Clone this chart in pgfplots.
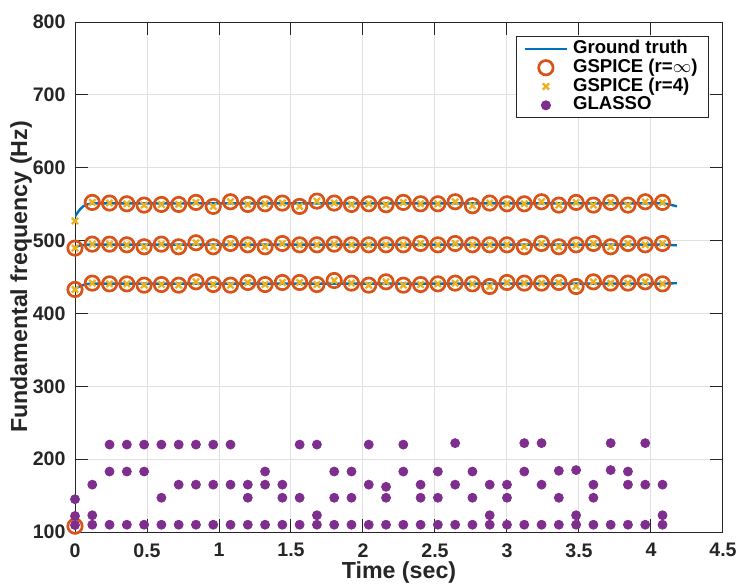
\documentclass[border=0pt]{standalone}
\usepackage{pgfplots}
\pgfplotsset{compat=1.18}
\usepackage{pgfplotstable}
\usepackage{fontspec}
\setmainfont{Liberation Sans}
\definecolor{mblue}{rgb}{0,0.447,0.741}
\definecolor{morange}{rgb}{0.85,0.325,0.098}
\definecolor{myellow}{rgb}{0.929,0.694,0.125}
\definecolor{mpurple}{rgb}{0.494,0.184,0.556}
\definecolor{axc}{rgb}{0.15,0.15,0.15}
\definecolor{gridc}{rgb}{0.88,0.88,0.88}
\pgfplotsset{gtlegend/.style={legend image code/.code={\draw[##1] (-0.075cm,0cm) -- (0.675cm,0cm);}}}

% GSPICE (r=inf) estimates
\pgfplotstableread{
t f
0 108
0 432.9
0 489.7
0.12 552.4
0.24 551.5
0.36 550.5
0.48 548.7
0.60 549.6
0.72 549.6
0.84 552.4
0.96 546.9
1.08 553.3
1.20 549.6
1.32 550.5
1.44 551.5
1.56 546.9
1.68 554.2
1.80 551.5
1.92 549.6
2.04 550.5
2.16 549.2
2.28 552.4
2.40 550.5
2.52 550.5
2.64 553.3
2.76 547.8
2.88 551.5
3.00 550.5
3.12 550.5
3.24 553.3
3.36 548.7
3.48 552.4
3.60 548.7
3.72 552.4
3.84 548.7
3.96 553.3
4.08 552.4
0.12 495.1
0.24 495.1
0.36 494.2
0.48 491.5
0.60 495.1
0.72 491.5
0.84 497.0
0.96 491.5
1.08 496.0
1.20 494.2
1.32 491.5
1.44 496.0
1.56 494.2
1.68 494.2
1.80 495.1
1.92 494.2
2.04 494.2
2.16 494.2
2.28 494.2
2.40 496.0
2.52 494.2
2.64 496.0
2.76 494.2
2.88 494.2
3.00 494.2
3.12 491.5
3.24 496.0
3.36 491.5
3.48 494.2
3.60 496.0
3.72 491.5
3.84 496.0
3.96 494.2
4.08 496.0
0.12 441.6
0.24 440.6
0.36 440.6
0.48 438.8
0.60 439.7
0.72 438.8
0.84 443.4
0.96 439.7
1.08 438.8
1.20 442.5
1.32 439.7
1.44 442.5
1.56 442.5
1.68 439.7
1.80 445.2
1.92 441.6
2.04 438.8
2.16 443.4
2.28 438.8
2.40 439.7
2.52 440.6
2.64 441.6
2.76 440.6
2.88 437.0
3.00 442.5
3.12 441.6
3.24 441.6
3.36 442.5
3.48 437.0
3.60 443.4
3.72 441.6
3.84 441.6
3.96 443.4
4.08 440.6
}\gspiceinf

% GSPICE (r=4) estimates
\pgfplotstableread{
t f
0 527
0 432.9
0 489.7
0.12 552.4
0.24 551.5
0.36 550.5
0.48 548.7
0.60 549.6
0.72 549.6
0.84 552.4
0.96 546.9
1.08 553.3
1.20 549.6
1.32 550.5
1.44 551.5
1.56 546.9
1.68 554.2
1.80 551.5
1.92 549.6
2.04 550.5
2.16 549.2
2.28 552.4
2.40 550.5
2.52 550.5
2.64 553.3
2.76 547.8
2.88 551.5
3.00 550.5
3.12 550.5
3.24 553.3
3.36 548.7
3.48 552.4
3.60 548.7
3.72 552.4
3.84 548.7
3.96 553.3
4.08 552.4
0.12 495.1
0.24 495.1
0.36 494.2
0.48 491.5
0.60 495.1
0.72 491.5
0.84 497.0
0.96 491.5
1.08 496.0
1.20 494.2
1.32 491.5
1.44 496.0
1.56 494.2
1.68 494.2
1.80 495.1
1.92 494.2
2.04 494.2
2.16 494.2
2.28 494.2
2.40 496.0
2.52 494.2
2.64 496.0
2.76 494.2
2.88 494.2
3.00 494.2
3.12 491.5
3.24 496.0
3.36 491.5
3.48 494.2
3.60 496.0
3.72 491.5
3.84 496.0
3.96 494.2
4.08 496.0
0.12 441.6
0.24 440.6
0.36 440.6
0.48 438.8
0.60 439.7
0.72 438.8
0.84 443.4
0.96 439.7
1.08 438.8
1.20 442.5
1.32 439.7
1.44 442.5
1.56 442.5
1.68 439.7
1.80 445.2
1.92 441.6
2.04 438.8
2.16 443.4
2.28 438.8
2.40 439.7
2.52 440.6
2.64 441.6
2.76 440.6
2.88 437.0
3.00 442.5
3.12 441.6
3.24 441.6
3.36 442.5
3.48 437.0
3.60 443.4
3.72 441.6
3.84 441.6
3.96 443.4
4.08 440.6
}\gspicefour

% GLASSO estimates
\pgfplotstableread{
t f
0 145
0 122
0 109.5
0.12 165
0.12 123
0.12 110
0.24 220
0.24 183
0.24 110
0.36 220
0.36 183
0.36 110
0.48 220
0.48 183
0.48 110
0.60 220
0.60 147
0.60 110
0.72 220
0.72 165
0.72 110
0.84 220
0.84 165
0.84 110
0.96 220
0.96 165
0.96 110
1.08 220
1.08 165
1.08 110
1.20 165
1.20 147
1.20 110
1.32 183
1.32 165
1.32 110
1.44 165
1.44 147
1.44 110
1.56 220
1.56 147
1.56 110
1.68 220
1.68 123
1.68 110
1.80 183
1.80 147
1.80 110
1.92 183
1.92 147
1.92 110
2.04 220
2.04 165
2.04 110
2.16 162
2.16 147
2.16 110
2.28 220
2.28 183
2.28 110
2.40 165
2.40 147
2.40 110
2.52 183
2.52 147
2.52 110
2.64 222
2.64 165
2.64 110
2.76 183
2.76 147
2.76 110
2.88 165
2.88 123
2.88 110
3.00 165
3.00 147
3.00 110
3.12 222
3.12 183
3.12 110
3.24 222
3.24 165
3.24 110
3.36 184
3.36 147
3.36 110
3.48 185
3.48 123
3.48 110
3.60 165
3.60 147
3.60 110
3.72 222
3.72 185
3.72 110
3.84 183
3.84 165
3.84 110
3.96 222
3.96 165
3.96 110
4.08 165
4.08 123
4.08 110
}\glasso

\begin{document}
\begin{tikzpicture}
\useasboundingbox (0,0) rectangle (369pt,292pt);
\begin{axis}[
  at={(37.5pt,26pt)}, anchor=south west,
  scale only axis, width=324pt, height=255pt,
  xmin=0, xmax=4.5, ymin=100, ymax=800,
  xtick={0,0.5,1,1.5,2,2.5,3,3.5,4,4.5},
  xticklabels={0,0.5,1,1.5,2,2.5,3,3.5,4,4.5},
  ytick={100,200,300,400,500,600,700,800},
  /pgf/number format/assume math mode=true,
  tick label style={font=\fontsize{9.8}{11}\selectfont\bfseries, text=axc},
  xticklabel style={yshift=-2.2pt},
  yticklabel style={xshift=-1.2pt},
  grid=major, major grid style={gridc, line width=0.5pt},
  tick align=inside, major tick length=6.5pt,
  axis line style={axc, line width=0.5pt},
  tick style={axc, line width=0.5pt},
  xlabel={Time (sec)},
  ylabel={Fundamental frequency (Hz)},
  label style={font=\fontsize{11.6}{13}\selectfont\bfseries, text=axc},
  xlabel style={at={(axis description cs:0.5,-0.0902)}, anchor=base},
  ylabel style={at={(axis description cs:-0.0833,0.5)}, anchor=center},
  legend style={at={(1,1)}, anchor=north east, xshift=-7pt, yshift=-7pt,
    font=\fontsize{9.3}{9.3}\selectfont\bfseries, draw=axc, line width=0.5pt,
    inner xsep=3.2pt, inner ysep=1.5pt, row sep=0pt,
    nodes={text height=6.8pt, text depth=2.2pt, inner ysep=0.2pt, inner xsep=2.3pt}},
  legend cell align=left,
]
\addplot[mblue, line width=1.2pt, no marks, gtlegend]
  coordinates {(0,533) (0.02,539) (0.04,544) (0.06,547.5) (0.09,550) (0.12,551) (1.0,551) (2.0,551) (3.0,551) (4.08,551) (4.12,550) (4.18,547)};
\addlegendentry{Ground truth}
\addplot[mblue, line width=1.2pt, no marks, forget plot]
  coordinates {(0,491) (0.03,493) (0.07,494.3) (0.12,494.5) (1.0,494.5) (2.0,494.5) (3.0,494.5) (4.08,494.5) (4.18,493.5)};
\addplot[mblue, line width=1.2pt, no marks, forget plot]
  coordinates {(0,433) (0.02,436) (0.05,438.5) (0.08,440.3) (0.12,441) (1.0,441) (2.0,441) (3.0,441) (4.08,441) (4.18,441.5)};
\addplot[only marks, mark=o, mark size=3.6pt, morange, line width=1.35pt] table[x=t,y=f] {\gspiceinf};
\addlegendentry{GSPICE (r=$\infty$)}
\addplot[only marks, mark=x, mark size=2.2pt, myellow, line width=1.15pt] table[x=t,y=f] {\gspicefour};
\addlegendentry{GSPICE (r=4)}
\addplot[only marks, mark=*, mark size=2.25pt, mpurple, mark options={draw=mpurple, fill=mpurple}] table[x=t,y=f] {\glasso};
\addlegendentry{GLASSO}
\end{axis}
\end{tikzpicture}
\end{document}
